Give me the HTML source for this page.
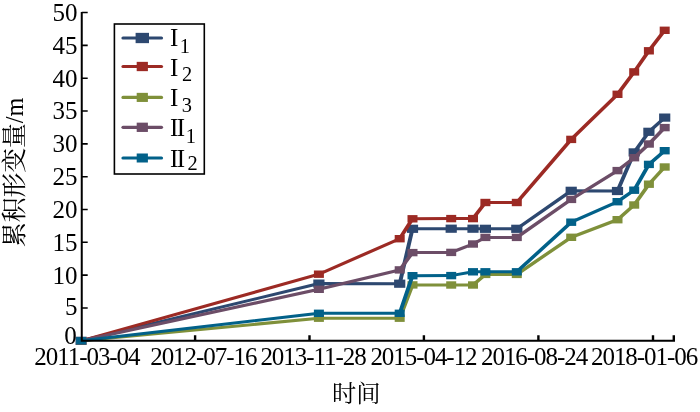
<!DOCTYPE html>
<html><head><meta charset="utf-8"><style>
html,body{margin:0;padding:0;background:#fff;}
svg{display:block;} .aa{will-change:transform;}
.t{font-family:"Liberation Serif","Noto Serif CJK SC",serif;fill:#000;}
</style></head><body>
<svg class="aa" width="700" height="412" viewBox="0 0 700 412">
<rect width="700" height="412" fill="#fff"/>

<polyline transform="scale(1.33,1)" points="60.977,340.80 239.774,283.60 300.526,283.70 310.150,228.80 339.248,228.70 355.639,228.70 364.962,228.80 388.571,228.80 429.474,190.80 464.286,191.00 476.842,152.40 487.895,131.80 499.774,117.60" fill="none" stroke="#2d4870" stroke-width="3.0" stroke-linejoin="miter"/>
<rect x="75.50" y="336.70" width="11.2" height="8.2" fill="#2d4870"/>
<rect x="313.30" y="279.50" width="11.2" height="8.2" fill="#2d4870"/>
<rect x="394.10" y="279.60" width="11.2" height="8.2" fill="#2d4870"/>
<rect x="406.90" y="224.70" width="11.2" height="8.2" fill="#2d4870"/>
<rect x="445.60" y="224.60" width="11.2" height="8.2" fill="#2d4870"/>
<rect x="467.40" y="224.60" width="11.2" height="8.2" fill="#2d4870"/>
<rect x="479.80" y="224.70" width="11.2" height="8.2" fill="#2d4870"/>
<rect x="511.20" y="224.70" width="11.2" height="8.2" fill="#2d4870"/>
<rect x="565.60" y="186.70" width="11.2" height="8.2" fill="#2d4870"/>
<rect x="611.90" y="186.90" width="11.2" height="8.2" fill="#2d4870"/>
<rect x="628.60" y="148.30" width="11.2" height="8.2" fill="#2d4870"/>
<rect x="643.30" y="127.70" width="11.2" height="8.2" fill="#2d4870"/>
<rect x="659.10" y="113.50" width="11.2" height="8.2" fill="#2d4870"/>
<polyline transform="scale(1.33,1)" points="60.977,340.80 239.774,274.20 300.526,238.70 310.150,218.80 339.248,218.60 355.639,218.60 364.962,202.50 388.571,202.50 429.474,139.40 464.286,94.30 476.842,71.90 487.895,50.80 499.774,30.30" fill="none" stroke="#9c2a24" stroke-width="3.0" stroke-linejoin="miter"/>
<rect x="76.10" y="337.10" width="10" height="7.4" fill="#9c2a24"/>
<rect x="313.90" y="270.50" width="10" height="7.4" fill="#9c2a24"/>
<rect x="394.70" y="235.00" width="10" height="7.4" fill="#9c2a24"/>
<rect x="407.50" y="215.10" width="10" height="7.4" fill="#9c2a24"/>
<rect x="446.20" y="214.90" width="10" height="7.4" fill="#9c2a24"/>
<rect x="468.00" y="214.90" width="10" height="7.4" fill="#9c2a24"/>
<rect x="480.40" y="198.80" width="10" height="7.4" fill="#9c2a24"/>
<rect x="511.80" y="198.80" width="10" height="7.4" fill="#9c2a24"/>
<rect x="566.20" y="135.70" width="10" height="7.4" fill="#9c2a24"/>
<rect x="612.50" y="90.60" width="10" height="7.4" fill="#9c2a24"/>
<rect x="629.20" y="68.20" width="10" height="7.4" fill="#9c2a24"/>
<rect x="643.90" y="47.10" width="10" height="7.4" fill="#9c2a24"/>
<rect x="659.70" y="26.60" width="10" height="7.4" fill="#9c2a24"/>
<polyline transform="scale(1.33,1)" points="60.977,340.80 239.774,318.20 300.526,318.20 310.150,284.90 339.248,285.00 355.639,285.00 364.962,274.40 388.571,274.40 429.474,237.30 464.286,219.70 476.842,205.00 487.895,184.20 499.774,167.00" fill="none" stroke="#7f903a" stroke-width="3.0" stroke-linejoin="miter"/>
<rect x="76.10" y="337.10" width="10" height="7.4" fill="#7f903a"/>
<rect x="313.90" y="314.50" width="10" height="7.4" fill="#7f903a"/>
<rect x="394.70" y="314.50" width="10" height="7.4" fill="#7f903a"/>
<rect x="407.50" y="281.20" width="10" height="7.4" fill="#7f903a"/>
<rect x="446.20" y="281.30" width="10" height="7.4" fill="#7f903a"/>
<rect x="468.00" y="281.30" width="10" height="7.4" fill="#7f903a"/>
<rect x="480.40" y="270.70" width="10" height="7.4" fill="#7f903a"/>
<rect x="511.80" y="270.70" width="10" height="7.4" fill="#7f903a"/>
<rect x="566.20" y="233.60" width="10" height="7.4" fill="#7f903a"/>
<rect x="612.50" y="216.00" width="10" height="7.4" fill="#7f903a"/>
<rect x="629.20" y="201.30" width="10" height="7.4" fill="#7f903a"/>
<rect x="643.90" y="180.50" width="10" height="7.4" fill="#7f903a"/>
<rect x="659.70" y="163.30" width="10" height="7.4" fill="#7f903a"/>
<polyline transform="scale(1.33,1)" points="60.977,340.80 239.774,289.30 300.526,269.90 310.150,252.60 339.248,252.40 355.639,244.00 364.962,237.40 388.571,237.40 429.474,199.40 464.286,170.60 476.842,157.70 487.895,144.00 499.774,127.60" fill="none" stroke="#6c4d67" stroke-width="3.0" stroke-linejoin="miter"/>
<rect x="76.10" y="337.10" width="10" height="7.4" fill="#6c4d67"/>
<rect x="313.90" y="285.60" width="10" height="7.4" fill="#6c4d67"/>
<rect x="394.70" y="266.20" width="10" height="7.4" fill="#6c4d67"/>
<rect x="407.50" y="248.90" width="10" height="7.4" fill="#6c4d67"/>
<rect x="446.20" y="248.70" width="10" height="7.4" fill="#6c4d67"/>
<rect x="468.00" y="240.30" width="10" height="7.4" fill="#6c4d67"/>
<rect x="480.40" y="233.70" width="10" height="7.4" fill="#6c4d67"/>
<rect x="511.80" y="233.70" width="10" height="7.4" fill="#6c4d67"/>
<rect x="566.20" y="195.70" width="10" height="7.4" fill="#6c4d67"/>
<rect x="612.50" y="166.90" width="10" height="7.4" fill="#6c4d67"/>
<rect x="629.20" y="154.00" width="10" height="7.4" fill="#6c4d67"/>
<rect x="643.90" y="140.30" width="10" height="7.4" fill="#6c4d67"/>
<rect x="659.70" y="123.90" width="10" height="7.4" fill="#6c4d67"/>
<polyline transform="scale(1.33,1)" points="60.977,340.80 239.774,313.30 300.526,313.30 310.150,275.70 339.248,275.60 355.639,271.80 364.962,271.80 388.571,271.80 429.474,222.20 464.286,201.70 476.842,190.20 487.895,164.40 499.774,150.70" fill="none" stroke="#026189" stroke-width="3.0" stroke-linejoin="miter"/>
<rect x="76.10" y="337.10" width="10" height="7.4" fill="#026189"/>
<rect x="313.90" y="309.60" width="10" height="7.4" fill="#026189"/>
<rect x="394.70" y="309.60" width="10" height="7.4" fill="#026189"/>
<rect x="407.50" y="272.00" width="10" height="7.4" fill="#026189"/>
<rect x="446.20" y="271.90" width="10" height="7.4" fill="#026189"/>
<rect x="468.00" y="268.10" width="10" height="7.4" fill="#026189"/>
<rect x="480.40" y="268.10" width="10" height="7.4" fill="#026189"/>
<rect x="511.80" y="268.10" width="10" height="7.4" fill="#026189"/>
<rect x="566.20" y="218.50" width="10" height="7.4" fill="#026189"/>
<rect x="612.50" y="198.00" width="10" height="7.4" fill="#026189"/>
<rect x="629.20" y="186.50" width="10" height="7.4" fill="#026189"/>
<rect x="643.90" y="160.70" width="10" height="7.4" fill="#026189"/>
<rect x="659.70" y="147.00" width="10" height="7.4" fill="#026189"/>
<g stroke="#000" fill="none">
<path d="M81.75 11.9V341.8M80.75 340.8H675" stroke-width="2"/>
<path d="M81.75 307.98H87.7M81.75 275.15H87.7M81.75 242.32H87.7M81.75 209.50H87.7M81.75 176.68H87.7M81.75 143.85H87.7M81.75 111.03H87.7M81.75 78.20H87.7M81.75 45.38H87.7M81.75 12.55H87.7" stroke-width="1.6"/>
<path d="M195.1 340.8V335.3M309.5 340.8V335.3M423.9 340.8V335.3M538.4 340.8V335.3M653.0 340.8V335.3M673.8 340.8V335.3" stroke-width="2.4"/>
</g>
<text class="t" x="76.8" y="344.00" font-size="25" text-anchor="end">0</text>
<text class="t" x="77.6" y="315.00" font-size="25" text-anchor="end">5</text>
<text class="t" x="77.6" y="283.55" font-size="25" text-anchor="end">10</text>
<text class="t" x="77.6" y="250.72" font-size="25" text-anchor="end">15</text>
<text class="t" x="77.6" y="217.90" font-size="25" text-anchor="end">20</text>
<text class="t" x="77.6" y="185.08" font-size="25" text-anchor="end">25</text>
<text class="t" x="77.6" y="152.25" font-size="25" text-anchor="end">30</text>
<text class="t" x="77.6" y="119.43" font-size="25" text-anchor="end">35</text>
<text class="t" x="77.6" y="86.60" font-size="25" text-anchor="end">40</text>
<text class="t" x="77.6" y="53.77" font-size="25" text-anchor="end">45</text>
<text class="t" x="77.6" y="20.95" font-size="25" text-anchor="end">50</text>
<text class="t" x="34.30" y="364.8" font-size="25" letter-spacing="-1.05">2011-03-04</text>
<text class="t" x="150.20" y="364.8" font-size="25" letter-spacing="-1.05">2012-07-16</text>
<text class="t" x="260.40" y="364.8" font-size="25" letter-spacing="-1.05">2013-11-28</text>
<text class="t" x="370.40" y="364.8" font-size="25" letter-spacing="-1.05">2015-04-12</text>
<text class="t" x="481.00" y="364.8" font-size="25" letter-spacing="-1.05">2016-08-24</text>
<text class="t" x="591.00" y="364.8" font-size="25" letter-spacing="-1.05">2018-01-06</text>
<text class="t" x="356.3" y="402.3" font-size="24.3" text-anchor="middle" style="font-family:'Noto Serif CJK SC',serif">时间</text>
<text class="t" transform="translate(23.3,97.5) rotate(-90)" font-size="24.3" text-anchor="end"><tspan font-size="24.8" style="font-family:'Noto Serif CJK SC',serif">累积形变量</tspan>/m</text>
<rect x="114.4" y="24" width="89.9" height="150" fill="#fff" stroke="#000" stroke-width="1.6"/>
<path d="M123 38.0H161.5" stroke="#2d4870" stroke-width="3.2" stroke-linecap="round"/>
<rect x="135.60" y="32.85" width="13.4" height="10.3" fill="#2d4870"/>
<text class="t" x="170" y="46.00" font-size="25" letter-spacing="-1.5">I</text>
<text class="t" x="179.80" y="52.50" font-size="20.4">1</text>
<path d="M123 66.5H161.5" stroke="#9c2a24" stroke-width="3.2" stroke-linecap="round"/>
<rect x="136.70" y="61.85" width="11.2" height="9.3" fill="#9c2a24"/>
<text class="t" x="170" y="75.80" font-size="25" letter-spacing="-1.5">I</text>
<text class="t" x="181.90" y="81.30" font-size="20.4">2</text>
<path d="M123 97.4H161.5" stroke="#7f903a" stroke-width="3.2" stroke-linecap="round"/>
<rect x="136.70" y="92.85" width="11.2" height="9.1" fill="#7f903a"/>
<text class="t" x="170" y="105.80" font-size="25" letter-spacing="-1.5">I</text>
<text class="t" x="181.70" y="111.60" font-size="20.4">3</text>
<path d="M123 127.3H161.5" stroke="#6c4d67" stroke-width="3.2" stroke-linecap="round"/>
<rect x="136.70" y="122.65" width="11.2" height="9.3" fill="#6c4d67"/>
<text class="t" x="170" y="135.60" font-size="25" letter-spacing="-1.5">II</text>
<text class="t" x="185.80" y="143.40" font-size="20.4">1</text>
<path d="M123 158.0H161.5" stroke="#026189" stroke-width="3.2" stroke-linecap="round"/>
<rect x="136.70" y="153.50" width="11.2" height="9.0" fill="#026189"/>
<text class="t" x="170" y="166.50" font-size="25" letter-spacing="-1.5">II</text>
<text class="t" x="187.40" y="170.40" font-size="20.4">2</text>
</svg></body></html>
